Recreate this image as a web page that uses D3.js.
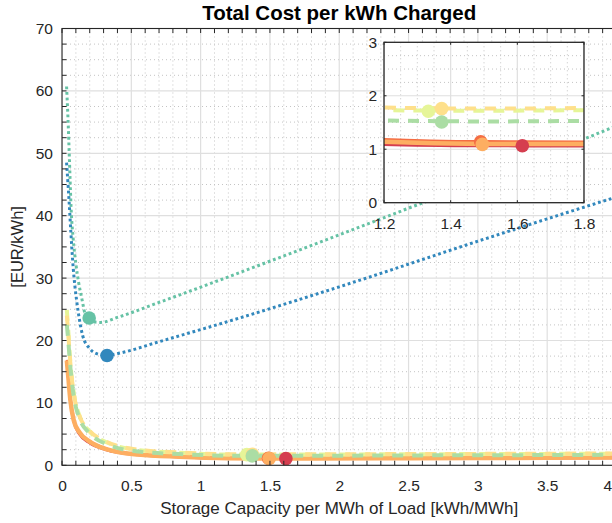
<!DOCTYPE html>
<html>
<head>
<meta charset="utf-8">
<script src="https://cdn.jsdelivr.net/npm/d3@7"></script>
<style>
  html, body { margin: 0; padding: 0; background: #fff; overflow: hidden; }
  svg { display: block; font-family: "Liberation Sans", Arial, Helvetica, sans-serif; }
</style>
</head>
<body>
<svg id="chart" width="612" height="523"></svg>
<script>
// ---- data -------------------------------------------------------------
// storage capacity grid (kWh per MWh of load) for the low-cost families
const capX = [0.035, 0.045, 0.06, 0.085, 0.125, 0.2, 0.32, 0.55, 0.85, 1.2, 1.5, 1.8, 2.5, 3.0, 3.5, 4.0];
const costRed       = [16.4, 13.8, 10.0, 6.9, 4.95, 3.55, 2.45, 1.64, 1.3, 1.085, 1.06, 1.055, 1.08, 1.1, 1.13, 1.16];
const costRedOrange = [16.9, 14.4, 10.6, 7.3, 5.4, 3.9, 2.7, 1.78, 1.42, 1.19, 1.15, 1.145, 1.16, 1.19, 1.22, 1.26];
const costOrange    = [16.8, 14.3, 10.5, 7.2, 5.3, 3.8, 2.6, 1.72, 1.37, 1.14, 1.10, 1.10, 1.13, 1.16, 1.2, 1.24];
const costLime      = [24.9, 21.7, 16.6, 11.6, 8.0, 5.4, 3.7, 2.45, 2.0, 1.73, 1.72, 1.73, 1.77, 1.8, 1.83, 1.87];
const costYellow    = [24.0, 21.2, 16.4, 11.5, 8.0, 5.5, 3.8, 2.5, 2.05, 1.78, 1.76, 1.77, 1.8, 1.83, 1.86, 1.9];
const costGreen     = [22.5, 20.0, 15.8, 11.0, 7.6, 5.1, 3.4, 2.2, 1.8, 1.54, 1.52, 1.53, 1.58, 1.61, 1.64, 1.68];

// high-cost families have their own capacity grids
const tealX    = [0.033, 0.045, 0.052, 0.058, 0.065, 0.08, 0.1, 0.12, 0.145, 0.17, 0.2, 0.24, 0.28, 0.4, 0.7, 1.14, 1.7, 2.3, 3.0, 3.6, 4.0];
const costTeal = [60.7, 54.5, 50.0, 46.0, 41.5, 36.5, 32.3, 29.3, 26.5, 24.0, 23.3, 22.95, 22.9, 23.7, 26.1, 29.7, 34.4, 39.5, 45.5, 50.8, 54.4];
const blueX    = [0.033, 0.045, 0.052, 0.064, 0.081, 0.105, 0.124, 0.149, 0.2, 0.25, 0.32, 0.42, 0.7, 1.28, 2.0, 3.04, 3.6, 4.0];
const costBlue = [48.5, 44.5, 42.0, 37.3, 31.6, 26.5, 23.6, 20.8, 18.7, 17.9, 17.6, 18.0, 19.8, 23.6, 28.6, 36.2, 40.2, 43.0];

// optimum point of each family (same order as the series list below)
const optCap  = [1.615, 1.49, 1.495, 1.333, 1.373, 1.373, 0.196, 0.325];
const optCost = [1.065, 1.14, 1.09, 1.71, 1.76, 1.51, 23.6, 17.6];

// axis ticks
const xTickVals = [0, 0.5, 1, 1.5, 2, 2.5, 3, 3.5, 4];
const yTickVals = [0, 10, 20, 30, 40, 50, 60, 70];
const insetXTicks = [1.2, 1.4, 1.6, 1.8];
const insetYTicks = [0, 1, 2, 3];

// ---- series: data + drawing style ---------------------------------------
const series = [
  { xs: capX,  ys: costRed,       color: "#d53e4f", width: 2.4, dash: null },
  { xs: capX,  ys: costRedOrange, color: "#f46d43", width: 2.2, dash: null },
  { xs: capX,  ys: costOrange,    color: "#fdae61", width: 4.5, dash: null },
  { xs: capX,  ys: costLime,      color: "#e6f598", width: 4,   dash: "11 9" },
  { xs: capX,  ys: costYellow,    color: "#fee08b", width: 4,   dash: "11 9" },
  { xs: capX,  ys: costGreen,     color: "#abdda4", width: 4,   dash: "11 9" },
  { xs: tealX, ys: costTeal,      color: "#66c2a5", width: 3,   dash: "2.8 2.8" },
  { xs: blueX, ys: costBlue,      color: "#3288bd", width: 3,   dash: "2.8 2.8" }
];
const lineOrder = [0, 1, 2, 3, 4, 5, 6, 7];   // thin red lines sit under the wide orange band
const markerOrder = [1, 2, 0, 3, 4, 5, 6, 7];

// ---- layout -------------------------------------------------------------
const svg = d3.select("#chart");
const main = { left: 62, right: 616.5, top: 28.5, bottom: 465.3 };
const inset = { left: 384, right: 584, top: 42.3, bottom: 202.7 };
const axisColor = "#262626";
const majorGrid = "#dfdfdf";
const minorGrid = "#c4c4c4";
const tickFont = 15.5;
const viewWidth = 612;

const x = d3.scaleLinear().domain([0, 4]).range([main.left, main.right]);
const y = d3.scaleLinear().domain([0, 70]).range([main.bottom, main.top]);
const ix = d3.scaleLinear().domain([1.2, 1.8]).range([inset.left, inset.right]);
const iy = d3.scaleLinear().domain([0, 3]).range([inset.bottom, inset.top]);

const defs = svg.append("defs");
defs.append("clipPath").attr("id", "clipMain").append("rect")
  .attr("x", main.left).attr("y", main.top)
  .attr("width", main.right - main.left).attr("height", main.bottom - main.top);
defs.append("clipPath").attr("id", "clipInset").append("rect")
  .attr("x", inset.left).attr("y", inset.top)
  .attr("width", inset.right - inset.left).attr("height", inset.bottom - inset.top);

// draws grid, curves and markers for one pair of scales
function drawPanel(g, sx, sy, box, clipId, xMinor, yMinor, xMajor, yMajor) {
  g.append("rect").attr("x", box.left).attr("y", box.top)
    .attr("width", box.right - box.left).attr("height", box.bottom - box.top)
    .attr("fill", "#fff");

  const grid = g.append("g").attr("clip-path", `url(#${clipId})`);
  grid.selectAll(".vmin").data(xMinor).join("line")
    .attr("x1", d => sx(d)).attr("x2", d => sx(d))
    .attr("y1", box.top).attr("y2", box.bottom)
    .attr("stroke", minorGrid).attr("stroke-width", 1).attr("stroke-dasharray", "1 3");
  grid.selectAll(".hmin").data(yMinor).join("line")
    .attr("y1", d => sy(d)).attr("y2", d => sy(d))
    .attr("x1", box.left).attr("x2", box.right)
    .attr("stroke", minorGrid).attr("stroke-width", 1).attr("stroke-dasharray", "1 3");
  grid.selectAll(".vmaj").data(xMajor).join("line")
    .attr("x1", d => sx(d)).attr("x2", d => sx(d))
    .attr("y1", box.top).attr("y2", box.bottom)
    .attr("stroke", majorGrid).attr("stroke-width", 1.2);
  grid.selectAll(".hmaj").data(yMajor).join("line")
    .attr("y1", d => sy(d)).attr("y2", d => sy(d))
    .attr("x1", box.left).attr("x2", box.right)
    .attr("stroke", majorGrid).attr("stroke-width", 1.2);

  const plot = g.append("g").attr("clip-path", `url(#${clipId})`);
  const line = d3.line().x(d => sx(d[0])).y(d => sy(d[1])).curve(d3.curveMonotoneX);
  lineOrder.forEach(i => {
    const s = series[i];
    plot.append("path")
      .datum(s.xs.map((v, k) => [v, s.ys[k]]))
      .attr("d", line)
      .attr("fill", "none")
      .attr("stroke", s.color)
      .attr("stroke-width", s.width)
      .attr("stroke-dasharray", s.dash)
      .attr("stroke-linejoin", "round");
  });
  markerOrder.forEach(i => {
    plot.append("circle")
      .attr("cx", sx(optCap[i])).attr("cy", sy(optCost[i]))
      .attr("r", 6.8).attr("fill", series[i].color);
  });
}

// evenly spaced minor tick values, skipping the majors
function minorVals(start, stop, step, majors) {
  const n = Math.round((stop - start) / step);
  return d3.range(n + 1).map(k => +(start + k * step).toFixed(4))
    .filter(v => !majors.some(m => Math.abs(m - v) < 1e-6));
}

// ---- main axes ------------------------------------------------------------
const gMain = svg.append("g");
const mainXMinor = minorVals(0, 4, 0.1, xTickVals);
const mainYMinor = minorVals(0, 70, 2.5, yTickVals);
drawPanel(gMain, x, y, main, "clipMain", mainXMinor, mainYMinor, xTickVals, yTickVals);

// ticks (inward) on bottom, top and left
const ticks = gMain.append("g").attr("stroke", axisColor).attr("stroke-width", 1);
[...xTickVals, ...mainXMinor].forEach(v => {
  ticks.append("line").attr("x1", x(v)).attr("x2", x(v)).attr("y1", main.bottom).attr("y2", main.bottom - 4.5);
  ticks.append("line").attr("x1", x(v)).attr("x2", x(v)).attr("y1", main.top).attr("y2", main.top + 4.5);
});
[...yTickVals, ...mainYMinor].forEach(v => {
  ticks.append("line").attr("y1", y(v)).attr("y2", y(v)).attr("x1", main.left).attr("x2", main.left + 4.5);
  ticks.append("line").attr("y1", y(v)).attr("y2", y(v)).attr("x1", main.right).attr("x2", main.right - 4.5);
});
// box
gMain.append("rect").attr("x", main.left).attr("y", main.top)
  .attr("width", main.right - main.left).attr("height", main.bottom - main.top)
  .attr("fill", "none").attr("stroke", axisColor).attr("stroke-width", 1.1);

// tick labels; the last x label is pulled in so it stays inside the view
gMain.append("g").attr("transform", `translate(0,${main.bottom})`)
  .call(d3.axisBottom(x).tickValues(xTickVals).tickSize(0).tickPadding(14.5).tickFormat(d3.format("~g")))
  .call(a => a.select(".domain").remove())
  .call(a => a.selectAll(".tick text").attr("font-size", tickFont).attr("fill", axisColor).attr("font-family", null))
  .call(a => a.selectAll(".tick").filter(d => x(d) + 5 > viewWidth)
    .select("text").attr("text-anchor", "end").attr("x", d => viewWidth - 0.5 - x(d)));
gMain.append("g").attr("transform", `translate(${main.left},0)`)
  .call(d3.axisLeft(y).tickValues(yTickVals).tickSize(0).tickPadding(9).tickFormat(d3.format("~g")))
  .call(a => a.select(".domain").remove())
  .selectAll("text").attr("font-size", tickFont).attr("fill", axisColor).attr("font-family", null);

// ---- inset axes ----------------------------------------------------------
const gInset = svg.append("g");
const insetXMinor = minorVals(1.2, 1.8, 0.05, insetXTicks);
const insetYMinor = minorVals(0, 3, 0.25, insetYTicks);
drawPanel(gInset, ix, iy, inset, "clipInset", insetXMinor, insetYMinor, insetXTicks, insetYTicks);

const iticks = gInset.append("g").attr("stroke", axisColor).attr("stroke-width", 1);
insetXTicks.forEach(v => {
  iticks.append("line").attr("x1", ix(v)).attr("x2", ix(v)).attr("y1", inset.bottom).attr("y2", inset.bottom - 2.5);
  iticks.append("line").attr("x1", ix(v)).attr("x2", ix(v)).attr("y1", inset.top).attr("y2", inset.top + 2.5);
});
insetYTicks.forEach(v => {
  iticks.append("line").attr("y1", iy(v)).attr("y2", iy(v)).attr("x1", inset.left).attr("x2", inset.left + 2.5);
  iticks.append("line").attr("y1", iy(v)).attr("y2", iy(v)).attr("x1", inset.right).attr("x2", inset.right - 2.5);
});
gInset.append("rect").attr("x", inset.left).attr("y", inset.top)
  .attr("width", inset.right - inset.left).attr("height", inset.bottom - inset.top)
  .attr("fill", "none").attr("stroke", axisColor).attr("stroke-width", 1.3);

gInset.append("g").attr("transform", `translate(0,${inset.bottom})`)
  .call(d3.axisBottom(ix).tickValues(insetXTicks).tickSize(0).tickPadding(15).tickFormat(d3.format(".1f")))
  .call(a => a.select(".domain").remove())
  .selectAll("text").attr("font-size", tickFont).attr("fill", axisColor).attr("font-family", null);
gInset.append("g").attr("transform", `translate(${inset.left},0)`)
  .call(d3.axisLeft(iy).tickValues(insetYTicks).tickSize(0).tickPadding(7).tickFormat(d3.format("~g")))
  .call(a => a.select(".domain").remove())
  .selectAll("text").attr("font-size", tickFont).attr("fill", axisColor).attr("font-family", null);

// ---- titles ---------------------------------------------------------------
svg.append("text")
  .attr("x", (main.left + main.right) / 2).attr("y", 20)
  .attr("text-anchor", "middle").attr("font-size", 20.5).attr("font-weight", "bold")
  .attr("fill", "#000")
  .text("Total Cost per kWh Charged");
svg.append("text")
  .attr("x", (main.left + main.right) / 2).attr("y", 514)
  .attr("text-anchor", "middle").attr("font-size", 17).attr("fill", axisColor)
  .text("Storage Capacity per MWh of Load [kWh/MWh]");
svg.append("text")
  .attr("transform", `translate(22.5,${(main.top + main.bottom) / 2}) rotate(-90)`)
  .attr("text-anchor", "middle").attr("font-size", 16.5).attr("fill", axisColor)
  .text("[EUR/kWh]");
</script>
</body>
</html>
